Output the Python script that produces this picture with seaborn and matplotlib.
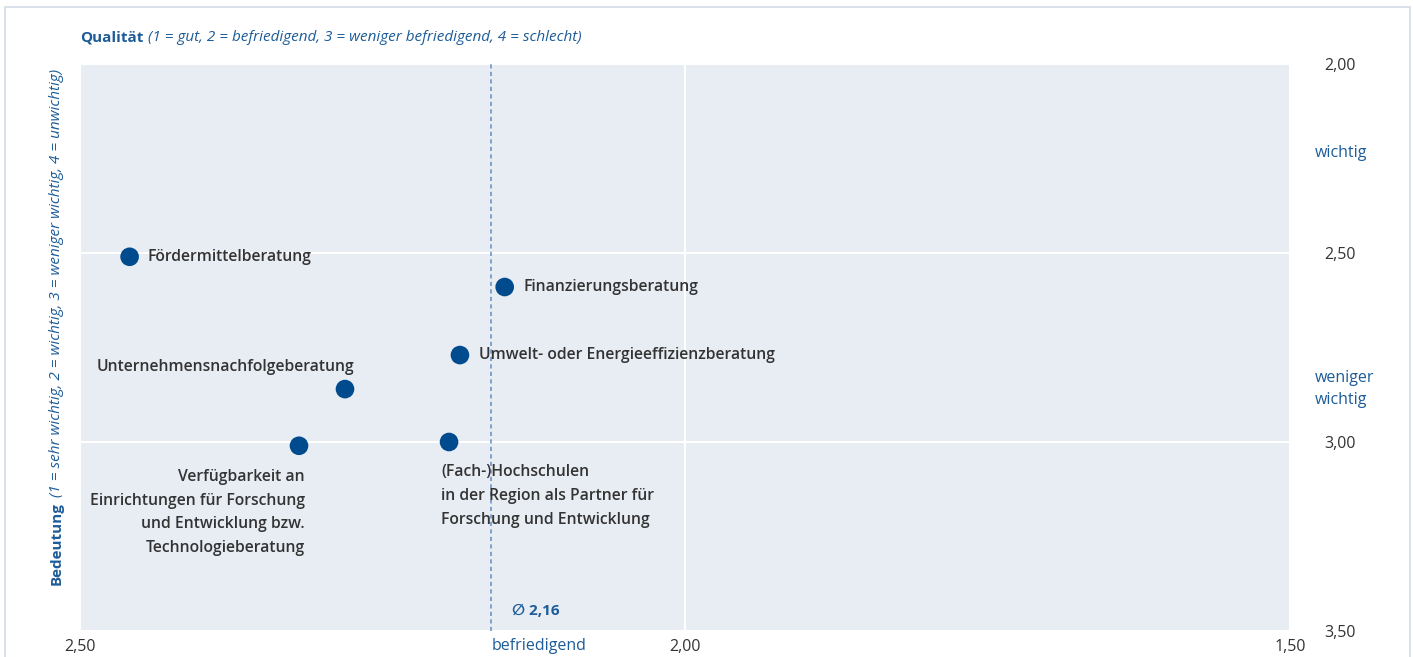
import matplotlib
matplotlib.use("Agg")
import matplotlib.pyplot as plt
import seaborn as sns
import pandas as pd
from matplotlib.patches import Rectangle
from matplotlib.transforms import blended_transform_factory

# ---- data ----
categories = [
    "Fördermittelberatung",
    "Finanzierungsberatung",
    "Umwelt- oder Energieeffizienzberatung",
    "Unternehmensnachfolgeberatung",
    "Verfügbarkeit an\nEinrichtungen für Forschung\nund Entwicklung bzw.\nTechnologieberatung",
    "(Fach-)Hochschulen\nin der Region als Partner für\nForschung und Entwicklung",
]
qualitaet = [2.459, 2.149, 2.186, 2.281, 2.319, 2.195]
bedeutung = [2.51, 2.59, 2.77, 2.86, 3.01, 3.00]
mean_quality = 2.16
x_ticks = [2.50, 2.00, 1.50]
x_ticklabels = ["2,50", "2,00", "1,50"]
y_ticks = [2.00, 2.50, 3.00, 3.50]
y_ticklabels = ["2,00", "2,50", "3,00", "3,50"]

df = pd.DataFrame({"Kategorie": categories, "Qualität": qualitaet, "Bedeutung": bedeutung})

# ---- style ----
BLUE = "#1d5c98"
DOT = "#004b8d"
TXT = "#333333"
PANEL = "#e8edf4"
FS = 11.3

sns.set_theme(style="white")
plt.rcParams["font.family"] = ["Open Sans", "DejaVu Sans"]

W, H = 1413, 657
fig = plt.figure(figsize=(W / 100, H / 100), dpi=100)
ax = fig.add_axes([80 / W, 1 - 631 / H, (1290 - 80) / W, (631 - 64) / H])
ax.set_facecolor(PANEL)

sns.scatterplot(data=df, x="Qualität", y="Bedeutung", ax=ax, s=180,
                color=DOT, edgecolor="none", zorder=5, legend=False)

ax.set_xlim(2.5, 1.5)
ax.set_ylim(3.5, 2.0)
for s in ax.spines.values():
    s.set_visible(False)

ax.set_xticks(x_ticks)
ax.set_xticklabels(x_ticklabels)
ax.yaxis.tick_right()
ax.set_yticks(y_ticks)
ax.set_yticklabels(y_ticklabels)
ax.tick_params(axis="x", length=0, pad=6, labelsize=11.5, labelcolor=TXT)
ax.tick_params(axis="y", length=0, pad=25, labelsize=11.5, labelcolor=TXT)
for lab in ax.get_yticklabels():
    lab.set_horizontalalignment("left")
ax.set_xlabel("")
ax.set_ylabel("")
ax.grid(True, color="white", linewidth=1.5)
ax.set_axisbelow(True)

# mean line
ax.axvline(mean_quality, color="#6f93c8", linestyle=(0, (2.5, 2)), linewidth=1.2, zorder=2)
ax.annotate("∅ 2,16", xy=(mean_quality, 3.5), xytext=(21, 20), textcoords="offset pixels",
            ha="left", va="center", fontsize=11, fontweight="bold", color=BLUE,
            family=["Open Sans", "DejaVu Sans"])
ax.annotate("befriedigend", xy=(mean_quality, 3.5), xytext=(0, -15), textcoords="offset pixels",
            ha="left", va="center", fontsize=11.5, color=BLUE, annotation_clip=False)

# point labels
offsets = [
    ((18, 0), "left", "center"),
    ((19, 0), "left", "center"),
    ((19, 0), "left", "center"),
    ((9, 22), "right", "center"),
    ((6, -23), "right", "top"),
    ((-8, -22), "left", "top"),
]
for (name, xq, yb), (off, ha, va) in zip(zip(categories, qualitaet, bedeutung), offsets):
    ax.annotate(name, xy=(xq, yb), xytext=off, textcoords="offset pixels",
                ha=ha, va=va, fontsize=FS, fontweight="semibold", color=TXT,
                linespacing=1.65, zorder=6)

# right side category labels
tr = blended_transform_factory(ax.transAxes, ax.transData)
ax.text((1315 - 80) / (1290 - 80), 2.235, "wichtig", transform=tr, ha="left", va="center",
        fontsize=11.5, color=BLUE)
ax.text((1315 - 80) / (1290 - 80), 2.86, "weniger\nwichtig", transform=tr, ha="left", va="center",
        fontsize=11.5, color=BLUE, linespacing=1.5)

# title
t1 = fig.text(80 / W, 1 - 38 / H, "Qualität", ha="left", va="center",
              fontsize=11, fontweight="bold", color=BLUE)
ax.annotate("(1 = gut, 2 = befriedigend, 3 = weniger befriedigend, 4 = schlecht)",
            xy=(1, 0), xycoords=t1, xytext=(5, 0), textcoords="offset pixels",
            ha="left", va="bottom", fontsize=11, fontstyle="italic", color=BLUE,
            annotation_clip=False)

# y label (rotated)
y1 = fig.text(57 / W, 1 - 585 / H, "Bedeutung", ha="center", va="bottom", rotation=90,
              fontsize=11, fontweight="bold", color=BLUE)
ax.annotate("(1 = sehr wichtig, 2 = wichtig, 3 = weniger wichtig, 4 = unwichtig)",
            xy=(0.5, 1), xycoords=y1, xytext=(0, 5), textcoords="offset pixels",
            ha="center", va="bottom", rotation=90, fontsize=11, fontstyle="italic",
            color=BLUE, annotation_clip=False)

# outer frame
fig.patches.append(Rectangle((5 / W, -0.05), (1410 - 5) / W, 1.05 - 7 / H,
                             transform=fig.transFigure, fill=False,
                             edgecolor="#d3dbe7", linewidth=1.2))

fig.savefig("out.png", dpi=100)
